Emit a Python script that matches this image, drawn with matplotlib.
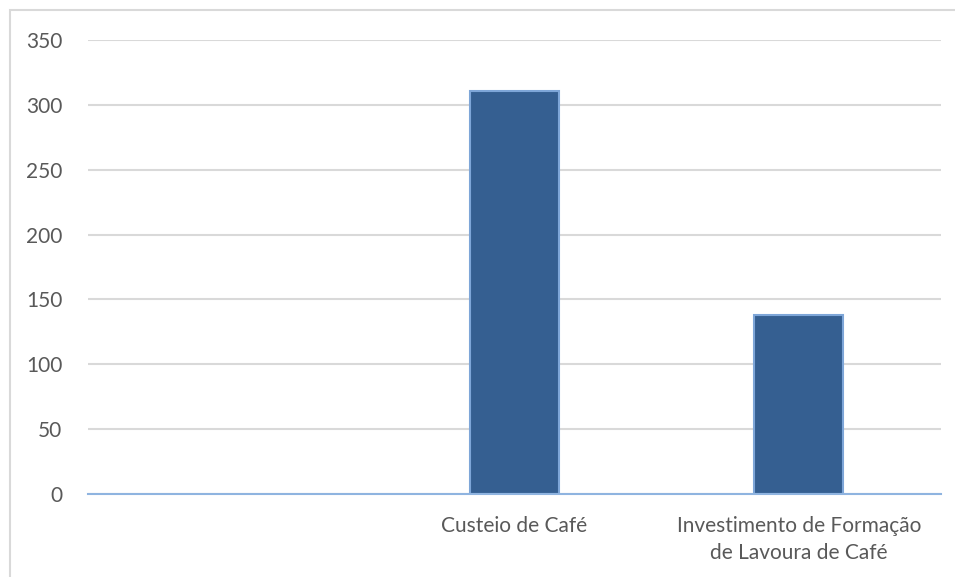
import matplotlib.pyplot as plt
from matplotlib.patches import Rectangle

# categorias e valores
categories = ["", "Custeio de Café", "Investimento de Formação\nde Lavoura de Café"]
values = [0, 311, 138]
yticks = [0, 50, 100, 150, 200, 250, 300, 350]

plt.rcParams["font.family"] = ["Lato", "DejaVu Sans"]

fig = plt.figure(figsize=(9.55, 5.77), dpi=100)
ax = fig.add_axes([88 / 955, 1 - 494 / 577, (941 - 88) / 955, (494 - 40) / 577])

# moldura do gráfico (estilo Excel)
fig.patches.append(Rectangle((10 / 955, -0.1), 1.2, 1.1 - 10 / 577,
                             transform=fig.transFigure, fill=False,
                             edgecolor="#d9d9d9", linewidth=1.5))

x = list(range(len(categories)))
ax.bar(x[1:], values[1:], width=0.313, color="#355f91",
       edgecolor="#7ea6d8", linewidth=1.5, zorder=3)

ax.set_xlim(-0.5, len(categories) - 0.5)
ax.set_ylim(0, 350)
ax.set_yticks(yticks)
ax.set_xticks(x)
ax.set_xticklabels(categories, linespacing=1.45)
ax.yaxis.grid(True, color="#d9d9d9", linewidth=1.5)
ax.set_axisbelow(True)

for s in ["top", "right", "left"]:
    ax.spines[s].set_visible(False)
ax.spines["bottom"].set_color("#8fb4e0")
ax.spines["bottom"].set_linewidth(1.5)
ax.spines["bottom"].set_zorder(4)

ax.tick_params(axis="both", length=0, labelsize=15, labelcolor="#595959")
ax.tick_params(axis="y", pad=18.5)
ax.tick_params(axis="x", pad=16)

fig.savefig("out.png", dpi=100)
